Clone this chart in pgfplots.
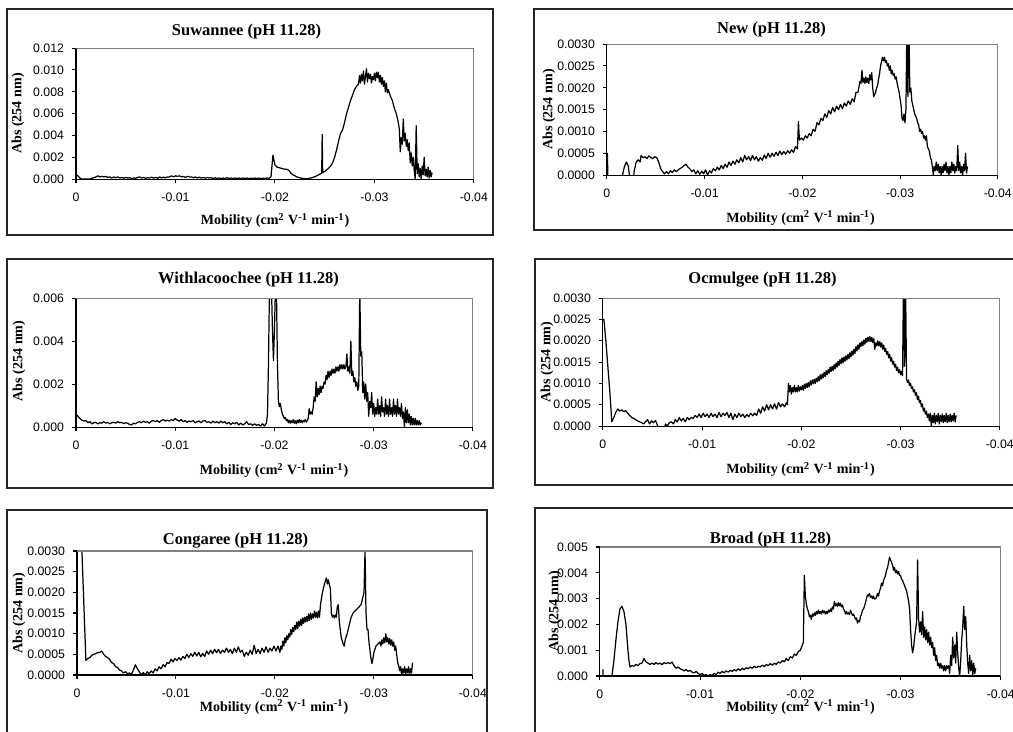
\documentclass[border=0pt]{standalone}
\usepackage{fontspec}
\setmainfont{Liberation Serif}
\newfontfamily\arialf{Liberation Sans}
\usepackage{pgfplots}
\pgfplotsset{compat=1.18}

\newcommand\tickf{\arialf\fontsize{7}{8.4}\selectfont}
\newcommand\titlef{\fontsize{9.4}{11}\selectfont\bfseries}
\newcommand\labf{\fontsize{8}{9.6}\selectfont\bfseries}
\newcommand\moblab{Mobility (cm\textsuperscript{2} V\textsuperscript{-1} min\textsuperscript{-1})}

\pgfplotsset{
  panel/.style={
    scale only axis, anchor=south west,
    axis x line*=bottom, axis y line*=left,
    axis line style={-, black, line width=0.6pt},
    every outer x axis line/.append style={-},
    every outer y axis line/.append style={-},
    x dir=reverse, xmin=-0.04, xmax=0, ymin=0,
    xtick={-0.04,-0.03,-0.02,-0.01,0},
    xticklabels={-0.04,-0.03,-0.02,-0.01,0},
    scaled x ticks=false, scaled y ticks=false,
    tick align=outside, major tick length=0.08cm,
    tick style={black, line width=0.6pt},
    ticklabel style={font=\tickf},
    xticklabel style={yshift=-2pt},
    yticklabel style={xshift=-1pt},
    after end axis/.code={\draw[gray, line width=0.6pt] (rel axis cs:0,1) -- (rel axis cs:1,1) -- (rel axis cs:1,0);},
  },
  curve/.style={black, line width=0.7pt, line join=round},
}

\begin{document}
\begin{tikzpicture}[x=0.02cm, y=0.02cm]
\useasboundingbox (0,0) rectangle (1013,732);

% chart frames
\begin{scope}[line width=0.6pt, black!85]
\draw (7,497) rectangle (493,723);
\draw (534,502) rectangle (1020,723);
\draw (7,244) rectangle (493,473);
\draw (535,247) rectangle (1020,473);
\draw (7,-28) rectangle (487,222);
\draw (535,-28) rectangle (1020,224);
\end{scope}

% ---------------- Suwannee ----------------
\begin{axis}[panel, at={(1.52cm,11.06cm)}, width=7.96cm, height=2.62cm,
  ymax=0.012, ytick={0,0.002,0.004,0.006,0.008,0.01,0.012},
  yticklabels={0.000,0.002,0.004,0.006,0.008,0.010,0.012}]
\addplot[curve] coordinates {
(0,0.0004) (-0.0002,0.0003) (-0.0005,0) (-0.0014,0) (-0.0017,0.0001) (-0.0020,0.0002) (-0.0022,0.0003) (-0.0024,0.0002) (-0.0026,0.00025) (-0.0028,0.0002) (-0.0030,0.00025) (-0.0032,0.00015) (-0.0034,0.0002) (-0.0036,0.0001) (-0.0038,0.0002) (-0.0040,0.00012) (-0.0042,0.0002) (-0.0044,0.0001) (-0.0046,0.00015) (-0.0048,0.00008) (-0.0050,0.00015) (-0.0052,0.0001) (-0.0054,0.00012) (-0.0056,0.00005) (-0.0058,0.0001) (-0.0060,0.00008) (-0.0062,0.00015) (-0.0064,0.0002) (-0.0066,0.0001) (-0.0068,0.00015) (-0.0070,0.00008) (-0.0072,0.00012) (-0.0074,0.0001) (-0.0076,0.00018) (-0.0078,0.0001) (-0.0080,0.00015) (-0.0082,0.00008) (-0.0084,0.0002) (-0.0086,0.0001) (-0.0088,0.00018) (-0.0090,0.00012) (-0.0092,0.0002) (-0.0094,0.0002) (-0.0096,0.0003) (-0.0098,0.0002) (-0.0100,0.0003) (-0.0102,0.00025) (-0.0104,0.0003) (-0.0106,0.0002) (-0.0108,0.00025) (-0.0110,0.00015) (-0.0112,0.00025) (-0.0114,0.0002) (-0.0116,0.0002) (-0.0118,0.00012) (-0.0120,0.0002) (-0.0122,0.0001) (-0.0124,0.00018) (-0.0126,0.0001) (-0.0128,0.00015) (-0.0130,0.00008) (-0.0132,0.00015) (-0.0134,0.0001) (-0.0136,0.00012) (-0.0138,0.00006) (-0.0140,0.00012) (-0.0142,0.00006) (-0.0144,0.0001) (-0.0146,0.00005) (-0.0148,0.0001) (-0.0150,0.00006) (-0.0152,0.00012) (-0.0154,0.00005) (-0.0156,0.0001) (-0.0158,0.00004) (-0.0160,0.0001) (-0.0162,0.00005) (-0.0164,0.0001) (-0.0166,0.00004) (-0.0168,0.0001) (-0.0170,0.00005) (-0.0172,0.0001) (-0.0174,0.00004) (-0.0176,0.00009) (-0.0178,0.00004) (-0.0180,0.0001) (-0.0182,0.00005) (-0.0184,0.0001) (-0.0186,0.00004) (-0.0188,0.00009) (-0.0190,0.00005) (-0.0192,0.0001) (-0.0194,0.00006) (-0.0196,0.0002)
(-0.0198,0.0022) (-0.0200,0.0013) (-0.0202,0.0011) (-0.0204,0.00105) (-0.0206,0.001) (-0.0208,0.00095) (-0.0210,0.0009) (-0.0212,0.0009) (-0.0214,0.0008) (-0.0216,0.00055) (-0.0218,0.0004) (-0.0220,0.0003) (-0.0222,0.0002) (-0.0224,0.00015) (-0.0226,0.0001) (-0.0228,0.00006) (-0.0230,0.00004) (-0.0232,0.00004) (-0.0234,0.00006) (-0.0236,0.0001) (-0.0238,0.00015) (-0.0240,0.00022) (-0.0242,0.0003) (-0.0244,0.0004) (-0.0246,0.0005) (-0.0247,0.00055) (-0.02475,0.0041) (-0.0248,0.0006) (-0.0250,0.0007) (-0.0252,0.00085) (-0.0254,0.001) (-0.0256,0.0012) (-0.0258,0.0015) (-0.0260,0.002) (-0.0262,0.0027) (-0.0264,0.0035) (-0.0266,0.0042) (-0.0268,0.0045) (-0.0270,0.0052) (-0.0272,0.006) (-0.0274,0.0066) (-0.0276,0.0072) (-0.0278,0.0077) (-0.0280,0.0082) (-0.0282,0.0085) (-0.0284,0.0087) (-0.0285,0.0095) (-0.0286,0.0088) (-0.0287,0.0096) (-0.0288,0.009) (-0.0289,0.0099) (-0.0290,0.0087) (-0.0291,0.0094) (-0.0292,0.0101) (-0.0293,0.0089) (-0.0294,0.0097) (-0.0295,0.0092) (-0.0296,0.0096) (-0.0297,0.0088) (-0.0298,0.0094) (-0.0299,0.0091) (-0.0300,0.0097) (-0.0301,0.009) (-0.0302,0.0098) (-0.0303,0.0093) (-0.0304,0.0098) (-0.0305,0.0089) (-0.0306,0.0095) (-0.0307,0.0087) (-0.0308,0.0093) (-0.0309,0.0085) (-0.0310,0.009) (-0.0311,0.008) (-0.0312,0.0088) (-0.0313,0.0079) (-0.0314,0.0082) (-0.0316,0.0076) (-0.0318,0.0072) (-0.0320,0.0065) (-0.0322,0.006) (-0.0324,0.0052) (-0.0325,0.0046) (-0.0326,0.0025) (-0.0327,0.0038) (-0.0328,0.0032) (-0.0329,0.0055) (-0.0330,0.0035) (-0.0331,0.0042) (-0.0332,0.003) (-0.0333,0.0036) (-0.0334,0.0026) (-0.0335,0.0033) (-0.0336,0.0015) (-0.0337,0.0024) (-0.0338,0.0012) (-0.0339,0.002) (-0.0340,0.0008) (-0.0341,0) (-0.0342,0.0049) (-0.0343,0.0005) (-0.0344,0.0014) (-0.0345,0.0002) (-0.0346,0.001) (-0.0347,0) (-0.0348,0.0012) (-0.0349,0.0004) (-0.0350,0.002) (-0.0351,0.0003) (-0.0352,0.0009) (-0.0353,0.0002) (-0.0354,0.0011) (-0.0355,0.0001) (-0.0356,0.0008) (-0.0357,0.0002) (-0.0358,0.0006)
};
\end{axis}

% ---------------- New ----------------
\begin{axis}[panel, at={(12.14cm,11.14cm)}, width=7.82cm, height=2.62cm,
  ymax=0.003, ytick={0,0.0005,0.001,0.0015,0.002,0.0025,0.003},
  yticklabels={0.0000,0.0005,0.0010,0.0015,0.0020,0.0025,0.0030}]
\addplot[curve] coordinates {
(0,0) (-0.00005,0.0005) (-0.0001,0) (-0.0002,-0.0002) (-0.0015,-0.0002) (-0.0016,0) (-0.0018,0.0002) (-0.0020,0.0003) (-0.0022,0.0002) (-0.0023,0) (-0.0024,-0.0002) (-0.0027,-0.0001) (-0.0028,0.0001) (-0.0030,0.0003) (-0.0032,0.00035) (-0.0034,0.0003) (-0.0035,0.00045) (-0.0037,0.0004) (-0.0039,0.00042) (-0.0041,0.00038) (-0.0043,0.00044) (-0.0045,0.0004) (-0.0047,0.00038) (-0.0049,0.00042) (-0.0051,0.0004) (-0.0053,0.0003) (-0.0055,0.00015) (-0.0057,0.00008) (-0.0059,0.00003) (-0.0061,0.00008) (-0.0063,0.00003) (-0.0065,0.0001) (-0.0067,0.00006) (-0.0069,0.00012) (-0.0071,0.00008) (-0.0073,0.00012) (-0.0075,0.00015) (-0.0077,0.00018) (-0.0079,0.00022) (-0.0081,0.00025) (-0.0083,0.00018) (-0.0085,0.00014) (-0.0087,0.00008) (-0.0089,0.00012) (-0.0091,0.00003) (-0.0093,0.0001) (-0.0095,0.00002) (-0.0097,0.00009) (-0.0099,0.00003) (-0.0101,0.00012) (-0.0103,0) (-0.0105,0.0001) (-0.0107,0.00005) (-0.0109,0.00015) (-0.0111,0.0001) (-0.0113,0.00018) (-0.0115,0.00012) (-0.0117,0.00022) (-0.0119,0.00015) (-0.0121,0.00025) (-0.0123,0.00018) (-0.0125,0.0003) (-0.0127,0.00022) (-0.0129,0.00032) (-0.0131,0.00025) (-0.0133,0.00035) (-0.0135,0.00028) (-0.0137,0.0004) (-0.0139,0.0003) (-0.0141,0.00045) (-0.0143,0.00035) (-0.0145,0.00042) (-0.0147,0.00033) (-0.0149,0.00045) (-0.0151,0.00035) (-0.0153,0.00042) (-0.0155,0.00032) (-0.0157,0.0004) (-0.0159,0.00034) (-0.0161,0.00046) (-0.0163,0.00038) (-0.0165,0.0005) (-0.0167,0.00041) (-0.0169,0.0005) (-0.0171,0.00043) (-0.0173,0.00052) (-0.0175,0.00045) (-0.0177,0.00055) (-0.0179,0.00047) (-0.0181,0.00054) (-0.0183,0.00048) (-0.0185,0.00056) (-0.0187,0.0005) (-0.0189,0.00058) (-0.0191,0.00052) (-0.0193,0.00065) (-0.0195,0.0006)
(-0.0196,0.00123) (-0.0197,0.0008) (-0.0199,0.00085) (-0.0201,0.0008) (-0.0203,0.0009) (-0.0205,0.00085) (-0.0207,0.00095) (-0.0209,0.0009) (-0.0211,0.00105) (-0.0213,0.001) (-0.0215,0.0012) (-0.0217,0.00115) (-0.0219,0.0013) (-0.0221,0.00125) (-0.0223,0.0014) (-0.0225,0.00132) (-0.0227,0.00148) (-0.0229,0.0014) (-0.0231,0.00155) (-0.0233,0.00145) (-0.0235,0.00158) (-0.0237,0.0015) (-0.0239,0.00162) (-0.0241,0.00152) (-0.0243,0.00165) (-0.0245,0.00158) (-0.0247,0.0017) (-0.0249,0.00162) (-0.0251,0.00175) (-0.0253,0.00168) (-0.0255,0.0019) (-0.0257,0.0019) (-0.0259,0.00215) (-0.0260,0.0021) (-0.0261,0.0024) (-0.0262,0.00212) (-0.0263,0.00222) (-0.0264,0.0021) (-0.0265,0.00225) (-0.0266,0.00212) (-0.0267,0.00222) (-0.0268,0.0021) (-0.0269,0.0023) (-0.0270,0.00218) (-0.0271,0.00235) (-0.0272,0.002) (-0.0273,0.0018) (-0.0274,0.00185) (-0.0275,0.0019) (-0.0276,0.002) (-0.0277,0.00205) (-0.0278,0.0022) (-0.0279,0.00232) (-0.0280,0.0025) (-0.0281,0.0026) (-0.0282,0.0027) (-0.0283,0.00262) (-0.0284,0.0027) (-0.0285,0.00258) (-0.0286,0.00262) (-0.0287,0.0025) (-0.0288,0.00255) (-0.0289,0.0024) (-0.0290,0.0025) (-0.0291,0.00232) (-0.0292,0.0024) (-0.0293,0.00228) (-0.0294,0.00232) (-0.0295,0.0022) (-0.0296,0.00225) (-0.0297,0.0021) (-0.0298,0.002) (-0.0299,0.0019) (-0.0300,0.00175) (-0.0301,0.0016) (-0.0302,0.0013) (-0.0303,0.00125) (-0.0304,0.0014) (-0.0305,0.0012) (-0.0306,0.0015) (-0.0307,0.0035) (-0.0308,0.0018) (-0.0309,0.0035) (-0.0310,0.0019) (-0.0311,0.002) (-0.0312,0.0017) (-0.0313,0.0016) (-0.0314,0.0015) (-0.0315,0.0014) (-0.0316,0.00135) (-0.0317,0.0013) (-0.0318,0.0012) (-0.0319,0.00115) (-0.0320,0.001) (-0.0321,0.00105) (-0.0322,0.00095) (-0.0323,0.001) (-0.0324,0.00085) (-0.0325,0.0009) (-0.0326,0.0008) (-0.0327,0.0009) (-0.0328,0.00065) (-0.0329,0.0006) (-0.0330,0.00055) (-0.0331,0.0004) (-0.0332,0.00035) (-0.0333,0.0002) (-0.0334,0) (-0.0335,0.0002) (-0.0336,0.0001) (-0.0337,0.0003) (-0.0338,0.0001) (-0.0339,0.00025) (-0.0340,0.00005) (-0.0341,0.0002) (-0.0342,0) (-0.0343,0.0002) (-0.0344,0.00005) (-0.0345,0.00025) (-0.0346,0.0001) (-0.0347,0.0003) (-0.0348,0.00005) (-0.0349,0.0002) (-0.0350,0) (-0.0351,0.0002) (-0.0352,0.00005) (-0.0353,0.0003) (-0.0354,0.0001) (-0.0355,0.00025) (-0.0356,0.00005) (-0.0357,0.0002) (-0.0358,0.0001) (-0.0359,0.00068) (-0.0360,0.0001) (-0.0361,0.0003) (-0.0362,0.00005) (-0.0363,0.0002) (-0.0364,0) (-0.0365,0.00025) (-0.0366,0.0001) (-0.0367,0.0005) (-0.0368,0.00005) (-0.0369,0.0002)
};
\end{axis}

% ---------------- Withlacoochee ----------------
\begin{axis}[panel, at={(1.52cm,6.10cm)}, width=7.94cm, height=2.58cm,
  ymax=0.006, ytick={0,0.002,0.004,0.006},
  yticklabels={0.000,0.002,0.004,0.006}]
\addplot[curve] coordinates {
(0,0.0006) (-0.0002,0.0005) (-0.0004,0.0004) (-0.0006,0.00032) (-0.0008,0.00028) (-0.0010,0.0003) (-0.0012,0.0002) (-0.0014,0.00025) (-0.0016,0.00015) (-0.0018,0.0002) (-0.0020,0.00022) (-0.0022,0.00015) (-0.0024,0.0002) (-0.0026,0.00018) (-0.0028,0.00025) (-0.0030,0.00018) (-0.0032,0.00022) (-0.0034,0.00015) (-0.0036,0.0002) (-0.0038,0.00022) (-0.0040,0.00018) (-0.0042,0.00025) (-0.0044,0.0002) (-0.0046,0.00022) (-0.0048,0.00016) (-0.0050,0.0002) (-0.0052,0.00018) (-0.0054,0.00012) (-0.0056,0.0001) (-0.0058,0.00018) (-0.0060,0.00015) (-0.0062,0.00022) (-0.0064,0.00025) (-0.0066,0.0002) (-0.0068,0.00028) (-0.0070,0.00022) (-0.0072,0.00025) (-0.0074,0.00018) (-0.0076,0.00028) (-0.0078,0.0003) (-0.0080,0.00025) (-0.0082,0.0003) (-0.0084,0.00022) (-0.0086,0.0003) (-0.0088,0.00035) (-0.0090,0.00028) (-0.0092,0.00032) (-0.0094,0.00028) (-0.0096,0.00035) (-0.0098,0.0003) (-0.0100,0.0004) (-0.0102,0.00032) (-0.0104,0.00028) (-0.0106,0.00035) (-0.0108,0.00025) (-0.0110,0.0003) (-0.0112,0.00022) (-0.0114,0.00028) (-0.0116,0.00025) (-0.0118,0.0003) (-0.0120,0.0002) (-0.0122,0.00025) (-0.0124,0.00028) (-0.0126,0.0002) (-0.0128,0.00028) (-0.0130,0.0003) (-0.0132,0.00022) (-0.0134,0.00025) (-0.0136,0.00018) (-0.0138,0.00028) (-0.0140,0.0002) (-0.0142,0.00025) (-0.0144,0.00018) (-0.0146,0.00028) (-0.0148,0.0002) (-0.0150,0.00025) (-0.0152,0.00015) (-0.0154,0.00022) (-0.0156,0.00012) (-0.0158,0.0002) (-0.0160,0.00015) (-0.0162,0.00022) (-0.0164,0.0001) (-0.0166,0.00018) (-0.0168,0.0001) (-0.0170,0.00015) (-0.0172,0.00025) (-0.0174,0.00012) (-0.0176,0.00015) (-0.0178,0.00008) (-0.0180,0.00015) (-0.0182,0.00008) (-0.0184,0.00012) (-0.0186,0.00005) (-0.0188,0.00015) (-0.0190,0.00005) (-0.0192,0.0002)
(-0.0193,0.0006) (-0.0194,0.003) (-0.0195,0.0065) (-0.0197,0.0065) (-0.0198,0.0045) (-0.0199,0.0031) (-0.0200,0.0045) (-0.0201,0.0065) (-0.0202,0.0065) (-0.0203,0.003) (-0.0204,0.0012) (-0.0205,0.00095) (-0.0206,0.0011) (-0.0207,0.0008) (-0.0208,0.0006) (-0.0209,0.0005) (-0.0210,0.0004) (-0.0211,0.00045) (-0.0212,0.0003) (-0.0213,0.00035) (-0.0214,0.0002) (-0.0215,0.00032) (-0.0216,0.00018) (-0.0217,0.0003) (-0.0218,0.0002) (-0.0219,0.00035) (-0.0220,0.00018) (-0.0221,0.0003) (-0.0222,0.00015) (-0.0223,0.00032) (-0.0224,0.0002) (-0.0225,0.00035) (-0.0226,0.00022) (-0.0227,0.00032) (-0.0228,0.0002) (-0.0229,0.0003) (-0.0230,0.00025) (-0.0231,0.00035) (-0.0232,0.00022) (-0.0233,0.0003) (-0.0234,0.0004) (-0.0235,0.00085) (-0.0236,0.0006) (-0.0237,0.0007) (-0.0238,0.0006) (-0.0239,0.0009) (-0.0240,0.0014) (-0.0241,0.0012) (-0.0242,0.0021) (-0.0243,0.0014) (-0.0244,0.0018) (-0.0245,0.0015) (-0.0246,0.0019) (-0.0247,0.0016) (-0.0248,0.0019) (-0.0249,0.0018) (-0.0250,0.0021) (-0.0251,0.002) (-0.0252,0.0024) (-0.0253,0.0022) (-0.0254,0.0026) (-0.0255,0.0023) (-0.0256,0.0026) (-0.0257,0.0024) (-0.0258,0.0027) (-0.0259,0.0025) (-0.0260,0.0027) (-0.0261,0.0025) (-0.0262,0.0028) (-0.0263,0.0026) (-0.0264,0.0028) (-0.0265,0.0026) (-0.0266,0.0029) (-0.0267,0.0027) (-0.0268,0.0029) (-0.0269,0.0027) (-0.0270,0.0029) (-0.0271,0.0027) (-0.0272,0.0028) (-0.0273,0.0034) (-0.0274,0.0026) (-0.0275,0.0028) (-0.0276,0.0025) (-0.0277,0.004) (-0.0278,0.0024) (-0.0279,0.0026) (-0.0280,0.0021) (-0.0281,0.0023) (-0.0282,0.0019) (-0.0283,0.0021) (-0.0284,0.0017) (-0.0285,0.0019) (-0.0286,0.0065) (-0.0287,0.0033) (-0.0288,0.0035) (-0.0289,0.0016) (-0.0290,0.0021) (-0.0291,0.0013) (-0.0292,0.002) (-0.0293,0.0012) (-0.0294,0.0016) (-0.0295,0.0005) (-0.0296,0.0012) (-0.0297,0.0009) (-0.0298,0.0016) (-0.0299,0.0006) (-0.0300,0.0011) (-0.0301,0.0005) (-0.0302,0.0009) (-0.0303,0.0006) (-0.0304,0.0013) (-0.0305,0.0006) (-0.0306,0.001) (-0.0307,0.0005) (-0.0308,0.0014) (-0.0309,0.0007) (-0.0310,0.0009) (-0.0311,0.0005) (-0.0312,0.0013) (-0.0313,0.0006) (-0.0314,0.001) (-0.0315,0.0005) (-0.0316,0.0013) (-0.0317,0.0006) (-0.0318,0.0009) (-0.0319,0.0005) (-0.0320,0.0013) (-0.0321,0.0006) (-0.0322,0.001) (-0.0323,0.0005) (-0.0324,0.0013) (-0.0325,0.0006) (-0.0326,0.0009) (-0.0327,0.0005) (-0.0328,0.0011) (-0.0329,0.0004) (-0.0330,0.0007) (-0.0331,0) (-0.0332,0.0009) (-0.0333,0.0002) (-0.0334,0.0008) (-0.0335,0.0002) (-0.0336,0.0006) (-0.0337,0.0001) (-0.0338,0.0005) (-0.0339,0.0001) (-0.0340,0.0004) (-0.0341,0.0001) (-0.0342,0.0004) (-0.0343,0.0001) (-0.0344,0.0003) (-0.0345,0.0001) (-0.0346,0.0003) (-0.0347,0.0001) (-0.0348,0.0002)
};
\end{axis}

% ---------------- Ocmulgee ----------------
\begin{axis}[panel, at={(12.06cm,6.12cm)}, width=7.94cm, height=2.56cm,
  ymax=0.003, ytick={0,0.0005,0.001,0.0015,0.002,0.0025,0.003},
  yticklabels={0.0000,0.0005,0.0010,0.0015,0.0020,0.0025,0.0030}]
\addplot[curve] coordinates {
(0,0.0025) (-0.0001,0.0025) (-0.0003,0.002) (-0.0005,0.0014) (-0.0007,0.0008) (-0.0009,0.0001) (-0.0011,0.0002) (-0.0013,0.00032) (-0.0015,0.0004) (-0.0017,0.00035) (-0.0019,0.00038) (-0.0021,0.00034) (-0.0023,0.00036) (-0.0025,0.0003) (-0.0027,0.00025) (-0.0029,0.0002) (-0.0031,0.00018) (-0.0033,0.00015) (-0.0035,0.00012) (-0.0037,0.0001) (-0.0039,0.00008) (-0.0041,0.00005) (-0.0043,0.0001) (-0.0045,0.00015) (-0.0047,0.00005) (-0.0049,0.00012) (-0.0051,0.00008) (-0.0053,0.00013) (-0.0055,0.00002) (-0.0057,-0.0001) (-0.0062,-0.0001) (-0.0063,0.00005) (-0.0065,0) (-0.0067,0.00008) (-0.0069,0.0001) (-0.0071,0.00005) (-0.0073,0.00015) (-0.0075,0.0001) (-0.0077,0.0002) (-0.0079,0.00012) (-0.0081,0.00018) (-0.0083,0.0001) (-0.0085,0.0002) (-0.0087,0.00015) (-0.0089,0.0002) (-0.0091,0.00018) (-0.0093,0.00025) (-0.0095,0.0002) (-0.0097,0.00028) (-0.0099,0.0002) (-0.0101,0.0003) (-0.0103,0.00022) (-0.0105,0.00028) (-0.0107,0.0002) (-0.0109,0.0003) (-0.0111,0.00022) (-0.0113,0.00028) (-0.0115,0.0002) (-0.0117,0.00032) (-0.0119,0.00022) (-0.0121,0.0003) (-0.0123,0.00025) (-0.0125,0.00032) (-0.0127,0.0002) (-0.0129,0.0003) (-0.0131,0.00015) (-0.0133,0.00028) (-0.0135,0.0002) (-0.0137,0.0003) (-0.0139,0.00022) (-0.0141,0.00028) (-0.0143,0.0002) (-0.0145,0.00027) (-0.0147,0.00022) (-0.0149,0.0003) (-0.0151,0.00024) (-0.0153,0.0003) (-0.0155,0.00025) (-0.0157,0.0004) (-0.0159,0.0003) (-0.0161,0.00045) (-0.0163,0.00035) (-0.0165,0.0005) (-0.0167,0.00038) (-0.0169,0.0005) (-0.0171,0.0004) (-0.0173,0.00052) (-0.0175,0.0004) (-0.0177,0.00055) (-0.0179,0.00045) (-0.0181,0.00052) (-0.0183,0.00045) (-0.0185,0.00055) (-0.0186,0.0005)
(-0.0187,0.001) (-0.0188,0.0008) (-0.0189,0.00095) (-0.0190,0.00075) (-0.0191,0.0009) (-0.0192,0.0008) (-0.0193,0.00095) (-0.0194,0.0008) (-0.0195,0.0009) (-0.0196,0.0008) (-0.0197,0.00095) (-0.0198,0.00082) (-0.0199,0.00092) (-0.0200,0.00085) (-0.0201,0.00095) (-0.0202,0.00084) (-0.0203,0.00098) (-0.0204,0.00088) (-0.0205,0.001) (-0.0206,0.0009) (-0.0207,0.00102) (-0.0208,0.00092) (-0.0209,0.00106) (-0.0210,0.00096) (-0.0211,0.00108) (-0.0212,0.00099) (-0.0213,0.0011) (-0.0214,0.001) (-0.0215,0.00112) (-0.0216,0.00104) (-0.0217,0.00116) (-0.0218,0.00106) (-0.0219,0.0012) (-0.0220,0.0011) (-0.0221,0.00122) (-0.0222,0.00113) (-0.0223,0.00126) (-0.0224,0.00116) (-0.0225,0.0013) (-0.0226,0.0012) (-0.0227,0.00132) (-0.0228,0.00124) (-0.0229,0.00138) (-0.0230,0.00128) (-0.0231,0.0014) (-0.0232,0.0013) (-0.0233,0.00144) (-0.0234,0.00134) (-0.0235,0.00148) (-0.0236,0.00138) (-0.0237,0.00152) (-0.0238,0.00142) (-0.0239,0.00156) (-0.0240,0.00146) (-0.0241,0.0016) (-0.0242,0.00148) (-0.0243,0.00162) (-0.0244,0.00152) (-0.0245,0.00165) (-0.0246,0.00155) (-0.0247,0.00168) (-0.0248,0.00158) (-0.0249,0.00172) (-0.0250,0.00162) (-0.0251,0.00176) (-0.0252,0.00166) (-0.0253,0.0018) (-0.0254,0.0017) (-0.0255,0.00186) (-0.0256,0.00176) (-0.0257,0.0019) (-0.0258,0.0018) (-0.0259,0.00195) (-0.0260,0.00186) (-0.0261,0.00198) (-0.0262,0.00188) (-0.0263,0.00202) (-0.0264,0.00192) (-0.0265,0.00206) (-0.0266,0.00196) (-0.0267,0.00208) (-0.0268,0.00198) (-0.0269,0.0021) (-0.0270,0.00198) (-0.0271,0.00208) (-0.0272,0.00196) (-0.0273,0.00205) (-0.0274,0.0018) (-0.0275,0.00195) (-0.0276,0.00188) (-0.0277,0.002) (-0.0278,0.00188) (-0.0279,0.00198) (-0.0280,0.00185) (-0.0281,0.00195) (-0.0282,0.0018) (-0.0283,0.0019) (-0.0284,0.00175) (-0.0285,0.00182) (-0.0286,0.00168) (-0.0287,0.00175) (-0.0288,0.0016) (-0.0289,0.00168) (-0.0290,0.00152) (-0.0291,0.0016) (-0.0292,0.00145) (-0.0293,0.00152) (-0.0294,0.00138) (-0.0295,0.00145) (-0.0296,0.0013) (-0.0297,0.00138) (-0.0298,0.00125) (-0.0299,0.00132) (-0.0300,0.0012) (-0.0301,0.00128) (-0.0302,0.00118) (-0.0303,0.0035) (-0.0304,0.0014) (-0.0305,0.0035) (-0.0306,0.0011) (-0.0307,0.00102) (-0.0308,0.00108) (-0.0309,0.00095) (-0.0310,0.001) (-0.0311,0.00088) (-0.0312,0.00092) (-0.0313,0.0008) (-0.0314,0.00085) (-0.0315,0.00072) (-0.0316,0.00078) (-0.0317,0.00062) (-0.0318,0.0007) (-0.0319,0.00055) (-0.0320,0.0006) (-0.0321,0.00045) (-0.0322,0.00052) (-0.0323,0.00035) (-0.0324,0.00042) (-0.0325,0.00028) (-0.0326,0.00035) (-0.0327,0.0002) (-0.0328,0.00028) (-0.0329,0.00012) (-0.0330,0.0003) (-0.0331,0) (-0.0332,0.00025) (-0.0333,0.00008) (-0.0334,0.0003) (-0.0335,0.00005) (-0.0336,0.00025) (-0.0337,0.0001) (-0.0338,0.0003) (-0.0339,0.00005) (-0.0340,0.00025) (-0.0341,0.0001) (-0.0342,0.00028) (-0.0343,0.00008) (-0.0344,0.00025) (-0.0345,0.0001) (-0.0346,0.0003) (-0.0347,0.00008) (-0.0348,0.00025) (-0.0349,0.0001) (-0.0350,0.00028) (-0.0351,0.0001) (-0.0352,0.00025) (-0.0353,0.00012) (-0.0354,0.0003) (-0.0355,0.0001) (-0.0356,0.00025)
};
\end{axis}

% ---------------- Congaree ----------------
\begin{axis}[panel, at={(1.54cm,1.14cm)}, width=7.92cm, height=2.48cm,
  ymax=0.003, ytick={0,0.0005,0.001,0.0015,0.002,0.0025,0.003},
  yticklabels={0.0000,0.0005,0.0010,0.0015,0.0020,0.0025,0.0030}]
\addplot[curve] coordinates {
(-0.0004,0.0035) (-0.0005,0.003) (-0.0009,0.00035) (-0.0011,0.0004) (-0.0013,0.00042) (-0.0015,0.00048) (-0.0017,0.0005) (-0.0019,0.00052) (-0.0021,0.00054) (-0.0023,0.00055) (-0.0025,0.00058) (-0.0027,0.0005) (-0.0029,0.00045) (-0.0031,0.00042) (-0.0033,0.00038) (-0.0035,0.0003) (-0.0037,0.00028) (-0.0039,0.0002) (-0.0041,0.00018) (-0.0043,0.00012) (-0.0045,0.0001) (-0.0047,0.00005) (-0.0049,0.00008) (-0.0051,0.00003) (-0.0053,0.00005) (-0.0055,0.00002) (-0.0057,0.00012) (-0.0059,0.00025) (-0.0061,0.00015) (-0.0063,0.00008) (-0.0065,0) (-0.0067,0.00006) (-0.0069,0) (-0.0071,0.00008) (-0.0073,0.00003) (-0.0075,0.0001) (-0.0077,0.00005) (-0.0079,0.00015) (-0.0081,0.0001) (-0.0083,0.0002) (-0.0085,0.00015) (-0.0087,0.00025) (-0.0089,0.0002) (-0.0091,0.0003) (-0.0093,0.00028) (-0.0095,0.00038) (-0.0097,0.00032) (-0.0099,0.0004) (-0.0101,0.00035) (-0.0103,0.00042) (-0.0105,0.00036) (-0.0107,0.00045) (-0.0109,0.0004) (-0.0111,0.0005) (-0.0113,0.00042) (-0.0115,0.00052) (-0.0117,0.00045) (-0.0119,0.00055) (-0.0121,0.00046) (-0.0123,0.00055) (-0.0125,0.00044) (-0.0127,0.00052) (-0.0129,0.00045) (-0.0131,0.00058) (-0.0133,0.0005) (-0.0135,0.0006) (-0.0137,0.00052) (-0.0139,0.00062) (-0.0141,0.00054) (-0.0143,0.00062) (-0.0145,0.00052) (-0.0147,0.0006) (-0.0149,0.00055) (-0.0151,0.00065) (-0.0153,0.00055) (-0.0155,0.00062) (-0.0157,0.00052) (-0.0159,0.00065) (-0.0161,0.00055) (-0.0163,0.00068) (-0.0165,0.00055) (-0.0167,0.0006) (-0.0169,0.00045) (-0.0171,0.00055) (-0.0173,0.00048) (-0.0175,0.0006) (-0.0177,0.0005) (-0.0179,0.00072) (-0.0181,0.00052) (-0.0183,0.00062) (-0.0185,0.00052) (-0.0187,0.00065) (-0.0189,0.00055) (-0.0191,0.00068) (-0.0193,0.00055) (-0.0195,0.00065) (-0.0197,0.00058) (-0.0199,0.0007) (-0.0201,0.00058) (-0.0203,0.0007) (-0.0205,0.00055)
(-0.0206,0.0007) (-0.0207,0.00062) (-0.0208,0.00082) (-0.0209,0.0007) (-0.0210,0.0009) (-0.0211,0.00078) (-0.0212,0.00095) (-0.0213,0.00085) (-0.0214,0.001) (-0.0215,0.00092) (-0.0216,0.0011) (-0.0217,0.00098) (-0.0218,0.00115) (-0.0219,0.00105) (-0.0220,0.0012) (-0.0221,0.0011) (-0.0222,0.00128) (-0.0223,0.00112) (-0.0224,0.0013) (-0.0225,0.00118) (-0.0226,0.00135) (-0.0227,0.0012) (-0.0228,0.00138) (-0.0229,0.00125) (-0.0230,0.0014) (-0.0231,0.00128) (-0.0232,0.00142) (-0.0233,0.0013) (-0.0234,0.00148) (-0.0235,0.00132) (-0.0236,0.0015) (-0.0237,0.00135) (-0.0238,0.00148) (-0.0239,0.00138) (-0.0240,0.00155) (-0.0241,0.0014) (-0.0242,0.00152) (-0.0243,0.00138) (-0.0244,0.00155) (-0.0245,0.0014) (-0.0246,0.0017) (-0.0248,0.002) (-0.0250,0.0022) (-0.0252,0.00235) (-0.0253,0.0022) (-0.0254,0.0023) (-0.0255,0.00218) (-0.0256,0.0021) (-0.0257,0.0015) (-0.0258,0.0014) (-0.0259,0.00145) (-0.0260,0.00138) (-0.0261,0.00145) (-0.0262,0.0014) (-0.0263,0.00165) (-0.0264,0.0017) (-0.0265,0.0013) (-0.0267,0.0009) (-0.0269,0.00075) (-0.0270,0.0007) (-0.0271,0.00085) (-0.0273,0.001) (-0.0275,0.0012) (-0.0277,0.0014) (-0.0279,0.0015) (-0.0281,0.00155) (-0.0283,0.0016) (-0.0285,0.00165) (-0.0287,0.0017) (-0.0289,0.0019) (-0.0290,0.002) (-0.0291,0.003) (-0.0292,0.0015) (-0.0293,0.0011) (-0.0294,0.0011) (-0.0295,0.0008) (-0.0297,0.0004) (-0.0298,0.00028) (-0.0299,0.0004) (-0.0300,0.00055) (-0.0302,0.0007) (-0.0304,0.00075) (-0.0306,0.0008) (-0.0307,0.0007) (-0.0308,0.00085) (-0.0309,0.00075) (-0.0310,0.0009) (-0.0311,0.00078) (-0.0312,0.001) (-0.0313,0.0008) (-0.0314,0.0009) (-0.0315,0.00075) (-0.0316,0.00088) (-0.0317,0.00072) (-0.0318,0.00085) (-0.0319,0.0007) (-0.0320,0.0008) (-0.0321,0.0006) (-0.0322,0.0007) (-0.0323,0.0005) (-0.0324,0.0003) (-0.0325,0.00022) (-0.0326,0.0001) (-0.0327,0.0002) (-0.0328,0) (-0.0329,0.00015) (-0.0330,0.00005) (-0.0331,0.0002) (-0.0332,0.00002) (-0.0333,0.00015) (-0.0334,0.00005) (-0.0335,0.0002) (-0.0336,0) (-0.0337,0.00015) (-0.0338,0.00005) (-0.0339,0.0003)
};
\end{axis}

% ---------------- Broad ----------------
\begin{axis}[panel, at={(12.00cm,1.12cm)}, width=8.02cm, height=2.58cm,
  ymax=0.005, ytick={0,0.001,0.002,0.003,0.004,0.005},
  yticklabels={0.000,0.001,0.002,0.003,0.004,0.005}]
\addplot[curve] coordinates {
(-0.0003,0) (-0.0003,0.00025) (-0.00031,0) (-0.0012,0) (-0.0014,0.0006) (-0.0016,0.0014) (-0.0018,0.0021) (-0.0020,0.0026) (-0.0022,0.0027) (-0.0024,0.0025) (-0.0026,0.002) (-0.0027,0.0015) (-0.0028,0.001) (-0.0029,0.0006) (-0.0030,0.00035) (-0.0032,0.0004) (-0.0034,0.00038) (-0.0036,0.00045) (-0.0038,0.0004) (-0.0040,0.00048) (-0.0042,0.0005) (-0.0044,0.00068) (-0.0046,0.00055) (-0.0048,0.0005) (-0.0050,0.00045) (-0.0052,0.0005) (-0.0054,0.00045) (-0.0056,0.00052) (-0.0058,0.00046) (-0.0060,0.0005) (-0.0062,0.00044) (-0.0064,0.00052) (-0.0066,0.00048) (-0.0068,0.00052) (-0.0070,0.00048) (-0.0072,0.00054) (-0.0074,0.0004) (-0.0076,0.0003) (-0.0078,0.00035) (-0.0080,0.00028) (-0.0082,0.00025) (-0.0084,0.0002) (-0.0086,0.00025) (-0.0088,0.00018) (-0.0090,0.00022) (-0.0092,0.00015) (-0.0094,0.00012) (-0.0096,0.00018) (-0.0098,0.0001) (-0.0100,0.00005) (-0.0102,0.0001) (-0.0104,0.00003) (-0.0106,0.00006) (-0.0108,0) (-0.0110,0.00005) (-0.0112,0.00002) (-0.0114,0.0001) (-0.0116,0.00005) (-0.0118,0.00015) (-0.0120,0.0001) (-0.0122,0.00018) (-0.0124,0.00012) (-0.0126,0.0002) (-0.0128,0.00015) (-0.0130,0.00022) (-0.0132,0.00018) (-0.0134,0.00025) (-0.0136,0.0002) (-0.0138,0.00028) (-0.0140,0.00022) (-0.0142,0.0003) (-0.0144,0.00025) (-0.0146,0.00032) (-0.0148,0.00028) (-0.0150,0.00035) (-0.0152,0.0003) (-0.0154,0.00038) (-0.0156,0.00032) (-0.0158,0.00038) (-0.0160,0.00035) (-0.0162,0.00042) (-0.0164,0.00036) (-0.0166,0.00045) (-0.0168,0.0004) (-0.0170,0.00048) (-0.0172,0.00042) (-0.0174,0.0005) (-0.0176,0.00045) (-0.0178,0.00055) (-0.0180,0.0005) (-0.0182,0.0006) (-0.0184,0.00055) (-0.0186,0.00068) (-0.0188,0.0006) (-0.0190,0.00075) (-0.0192,0.0007) (-0.0194,0.00085) (-0.0196,0.0008) (-0.0198,0.00095) (-0.0200,0.001) (-0.0202,0.0012) (-0.0203,0.0013)
(-0.0204,0.0039) (-0.0205,0.0031) (-0.0206,0.0028) (-0.0207,0.0026) (-0.0208,0.0025) (-0.0209,0.0023) (-0.0210,0.00235) (-0.0211,0.0022) (-0.0212,0.0024) (-0.0213,0.00232) (-0.0214,0.00245) (-0.0215,0.00235) (-0.0216,0.0025) (-0.0217,0.0024) (-0.0218,0.00255) (-0.0219,0.00242) (-0.0220,0.0025) (-0.0221,0.0024) (-0.0222,0.00255) (-0.0223,0.00245) (-0.0224,0.00252) (-0.0225,0.0024) (-0.0226,0.0025) (-0.0227,0.00242) (-0.0228,0.00255) (-0.0229,0.00248) (-0.0230,0.0026) (-0.0231,0.0025) (-0.0232,0.00268) (-0.0233,0.0026) (-0.0234,0.0029) (-0.0235,0.00272) (-0.0236,0.0028) (-0.0237,0.0027) (-0.0238,0.00285) (-0.0239,0.00272) (-0.0240,0.00282) (-0.0241,0.00268) (-0.0242,0.00275) (-0.0243,0.0026) (-0.0244,0.00255) (-0.0245,0.0024) (-0.0246,0.0025) (-0.0247,0.0024) (-0.0248,0.00245) (-0.0249,0.00238) (-0.0250,0.00255) (-0.0251,0.00245) (-0.0252,0.00235) (-0.0253,0.0024) (-0.0254,0.0023) (-0.0255,0.0022) (-0.0256,0.00225) (-0.0257,0.00205) (-0.0258,0.00215) (-0.0259,0.0021) (-0.0260,0.0023) (-0.0261,0.0024) (-0.0262,0.00255) (-0.0263,0.0026) (-0.0264,0.0027) (-0.0265,0.00285) (-0.0266,0.003) (-0.0267,0.00315) (-0.0268,0.0031) (-0.0269,0.0032) (-0.0270,0.00305) (-0.0271,0.0031) (-0.0272,0.003) (-0.0273,0.0031) (-0.0274,0.00298) (-0.0275,0.003) (-0.0276,0.00305) (-0.0277,0.0032) (-0.0278,0.0031) (-0.0279,0.0033) (-0.0280,0.0034) (-0.0281,0.0036) (-0.0282,0.0035) (-0.0283,0.0037) (-0.0284,0.0038) (-0.0285,0.0039) (-0.0286,0.0041) (-0.0287,0.0042) (-0.0288,0.0044) (-0.0289,0.0046) (-0.0290,0.0045) (-0.0291,0.0044) (-0.0292,0.0043) (-0.0293,0.0041) (-0.0294,0.0042) (-0.0295,0.004) (-0.0296,0.0041) (-0.0297,0.00395) (-0.0298,0.00405) (-0.0299,0.0039) (-0.0300,0.0039) (-0.0301,0.00375) (-0.0302,0.0037) (-0.0303,0.0036) (-0.0304,0.0035) (-0.0305,0.0034) (-0.0306,0.0033) (-0.0307,0.0031) (-0.0308,0.0029) (-0.0309,0.0026) (-0.0310,0.0018) (-0.0311,0.0012) (-0.0312,0.0009) (-0.0313,0.0011) (-0.0314,0.0015) (-0.0315,0.0018) (-0.0316,0.0021) (-0.0317,0.0045) (-0.0318,0.0022) (-0.0319,0.0017) (-0.0320,0.0021) (-0.0321,0.0016) (-0.0322,0.0025) (-0.0323,0.0015) (-0.0324,0.0019) (-0.0325,0.0014) (-0.0326,0.0018) (-0.0327,0.0013) (-0.0328,0.0017) (-0.0329,0.0012) (-0.0330,0.0015) (-0.0331,0.0011) (-0.0332,0.0013) (-0.0333,0.0008) (-0.0334,0.0011) (-0.0335,0.0006) (-0.0336,0.0008) (-0.0337,0.0004) (-0.0338,0.0005) (-0.0339,0.0003) (-0.0340,0.0005) (-0.0341,0.0003) (-0.0342,0.0004) (-0.0343,0.0002) (-0.0344,0.0004) (-0.0345,0.0002) (-0.0346,0.0004) (-0.0347,0.0003) (-0.0348,0.0004) (-0.0349,0.0001) (-0.0350,0.0008) (-0.0351,0.0004) (-0.0352,0.0015) (-0.0353,0.0007) (-0.0354,0.0012) (-0.0355,0.0005) (-0.0356,0.0017) (-0.0357,0.0009) (-0.0358,0.0003) (-0.0359,0) (-0.0360,0.0006) (-0.0361,0.0014) (-0.0362,0.0019) (-0.0363,0.0027) (-0.0364,0.0018) (-0.0365,0.0023) (-0.0366,0.0012) (-0.0367,0.0005) (-0.0368,0.0001) (-0.0369,0.0008) (-0.0370,0.0002) (-0.0371,0.0006) (-0.0372,0) (-0.0373,0.0005) (-0.0374,0.0001) (-0.0375,0.0003)
};
\end{axis}

% titles and axis labels
\node[anchor=base, font=\titlef] at (246.5,696.3) {Suwannee (pH 11.28)};
\node[anchor=base, font=\titlef] at (771.5,698.7) {New (pH 11.28)};
\node[anchor=base, font=\titlef] at (248.5,448.7) {Withlacoochee (pH 11.28)};
\node[anchor=base, font=\titlef] at (762.5,448.7) {Ocmulgee (pH 11.28)};
\node[anchor=base, font=\titlef] at (235.5,187) {Congaree (pH 11.28)};
\node[anchor=base, font=\titlef] at (770.5,188.7) {Broad (pH 11.28)};

\node[anchor=base, font=\labf] at (275,507) {\moblab};
\node[anchor=base, font=\labf] at (800.5,509.3) {\moblab};
\node[anchor=base, font=\labf] at (274,257) {\moblab};
\node[anchor=base, font=\labf] at (800.5,258) {\moblab};
\node[anchor=base, font=\labf] at (274,20.3) {\moblab};
\node[anchor=base, font=\labf] at (800.5,20.3) {\moblab};

\node[rotate=90, font=\labf] at (18,618.5) {Abs (254 nm)};
\node[rotate=90, font=\labf] at (549,622.5) {Abs (254 nm)};
\node[rotate=90, font=\labf] at (19,371) {Abs (254 nm)};
\node[rotate=90, font=\labf] at (547,370) {Abs (254 nm)};
\node[rotate=90, font=\labf] at (19,119) {Abs (254 nm)};
\node[rotate=90, font=\labf] at (555,120.5) {Abs (254 nm)};
\end{tikzpicture}
\end{document}
